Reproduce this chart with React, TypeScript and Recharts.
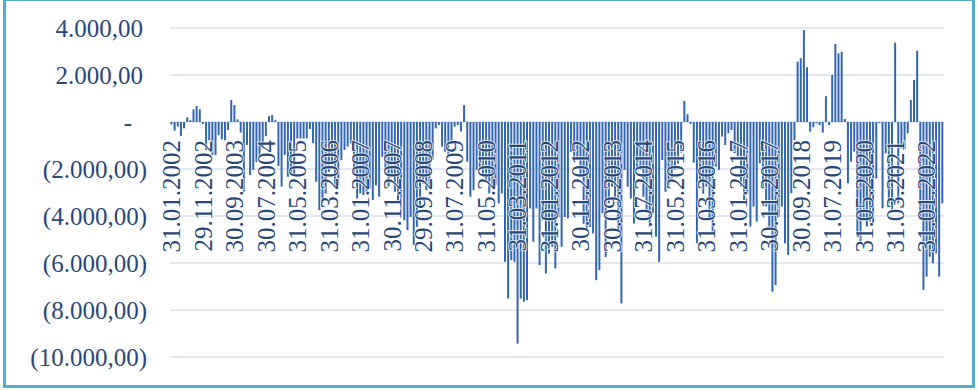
import { Bar, BarChart, CartesianGrid, XAxis, YAxis } from "recharts";

// monthly values, Jan 2002 .. Jun 2022
const values = [
  -100, -370, -200, -600, -270, 200, 80, 540, 680, 540,
  -80, -1200, -780, -1400, -1400, -560, -740, -770, -340, 940,
  720, 110, -450, -2970, -980, -2260, -2040, -1700, -1480, -1130,
  -600, 250, 300, 80, -1870, -2750, -1400, -2330, -2260, -2300,
  -700, -700, -700, -700, -300, -900, -2540, -3750, -3450, -3050,
  -2130, -1770, -2770, -2700, -1620, -1190, -1050, -910, -2200, -3250,
  -3040, -3110, -2970, -2830, -3320, -2700, -3180, -1480, -2050, -2750,
  -2200, -2970, -3460, -3900, -4180, -4600, -4040, -5240, -4460, -3610,
  -2620, -2900, -2700, -1600, -270, -130, -1050, -1260, -1400, -900,
  -200, -130, -400, 720, -1690, -3180, -2900, -2040, -2040, -2330,
  -2470, -3040, -2750, -2680, -3460, -3040, -5950, -7510, -5880, -5950,
  -9430, -7510, -7650, -7580, -3680, -5100, -3680, -6090, -4180, -6450,
  -5600, -5310,
  -6230, -4040, -5310, -4040, -4100, -1270, -1620, -1620,
  -2330, -4330, -4610, -4470, -4740, -6730, -6300, -3890, -5740, -3460,
  -2750, -3320, -4670, -7720, -2040, -2750, -3250, -4320, -2040, -2040,
  -3180, -3750, -4460, -3890, -4880, -5950, -1620, -2970, -2750, -2400,
  -2040, -1770, -1300,
  890, 330, -80, -1730, -5160, -2470, -3050,
  -2750, -4180, -4750, -1900, -2040, -620, -980, -480, -340, -1330,
  -1470, -2750, -3320, -3040, -4450, -3600, -4240, -1760, -2750, -3600,
  -4450, -7220, -6940, -4030, -3600, -5160, -5660, -3030, -770, 2570,
  2710, 3910, 2330,
  -410, -230, -60, -130, -450, 1100, -130, 2000, 3320, 2920,
  2990, 130, -2610, -1690, -1260, -4880, -5090, -4170, -4450, -4240,
  -4310, -2400, -50, -3670, -1330, -3460, -3810, 3375, -3460, -1130,
  -1150, -480, 940, 1790, 3030, -4170, -7150, -6580, -5730, -6010,
  -5590, -6580, -3460,
];

// every 10th month is labelled
const tickLabels = [
  "31.01.2002", "29.11.2002", "30.09.2003", "30.07.2004", "31.05.2005",
  "31.03.2006", "31.01.2007", "30.11.2007", "29.09.2008", "31.07.2009",
  "31.05.2010", "31.03.2011", "31.01.2012", "30.11.2012", "30.09.2013",
  "31.07.2014", "31.05.2015", "31.03.2016", "31.01.2017", "30.11.2017",
  "30.09.2018", "31.07.2019", "31.05.2020", "31.03.2021", "31.01.2022",
];

const yTicks = [-10000, -8000, -6000, -4000, -2000, 0, 2000, 4000];

const categories = values.map((_, i) => {
  const y = 2002 + Math.floor(i / 12);
  const m = (i % 12) + 1;
  return `${y}-${String(m).padStart(2, "0")}`;
});

const data = categories.map((month, i) => ({ month, value: values[i] }));
const tickMap = new Map(tickLabels.map((l, k) => [categories[k * 10], l]));

const W = 977;
const H = 391;
const M = { top: 28, right: 33, bottom: 33, left: 0 };
const yMin = -10000;
const yMax = 4000;
const zeroY = M.top + ((H - M.top - M.bottom - 1) * yMax) / (yMax - yMin);

const FONT = "'Liberation Serif', 'Times New Roman', serif";
const TEXT = "#2A4877";

function fmt(v: number) {
  if (v === 0) return "-";
  const s = Math.abs(v).toLocaleString("de-DE", {
    minimumFractionDigits: 2,
    maximumFractionDigits: 2,
  });
  return v < 0 ? `(${s})` : s;
}

function YTick(props: any) {
  const { x, y, payload } = props;
  const v = payload.value as number;
  const dx = v === 0 ? -15 : v > 0 ? -4 : 0;
  return (
    <text
      x={x + dx}
      y={y}
      dy="0.35em"
      textAnchor="end"
      fill={TEXT}
      fontSize={25}
      fontFamily={FONT}
    >
      {fmt(v)}
    </text>
  );
}

function XTick(props: any) {
  const { x, payload } = props;
  let label = tickMap.get(payload?.value);
  if (!label && typeof payload?.index === "number" && payload.index % 10 === 0) {
    label = tickLabels[payload.index / 10];
  }
  if (!label) return <g />;
  const ty = zeroY + 18;
  return (
    <text
      x={x}
      y={ty}
      dy="0.35em"
      textAnchor="end"
      transform={`rotate(-90, ${x}, ${ty})`}
      fill={TEXT}
      fontSize={25}
      fontFamily={FONT}
      stroke="rgba(255,255,255,0.75)"
      strokeWidth={2}
      paintOrder="stroke"
    >
      {label}
    </text>
  );
}

export default function App() {
  return (
    <div
      style={{
        position: "absolute",
        left: 0,
        top: 0,
        width: W,
        height: H,
        background: "#fff",
        overflow: "hidden",
      }}
    >
      <div
        style={{
          position: "absolute",
          left: 3,
          top: -2,
          width: 972,
          height: 390,
          boxSizing: "border-box",
          border: "3px solid #4EAFC6",
        }}
      />
      <BarChart width={W} height={H} data={data} margin={M} barCategoryGap="15%">
        <CartesianGrid vertical={false} stroke="#D8E1F0" strokeWidth={1.5} />
        <YAxis
          width={170}
          domain={[yMin, yMax]}
          ticks={yTicks}
          axisLine={false}
          tickLine={false}
          tickSize={0}
          tickMargin={23}
          tick={<YTick />}
        />
        <Bar dataKey="value" fill="#3366B2" isAnimationActive={false} />
        <XAxis
          dataKey="month"
          height={1}
          interval={9}
          axisLine={false}
          tickLine={false}
          tick={<XTick />}
        />
      </BarChart>
    </div>
  );
}
